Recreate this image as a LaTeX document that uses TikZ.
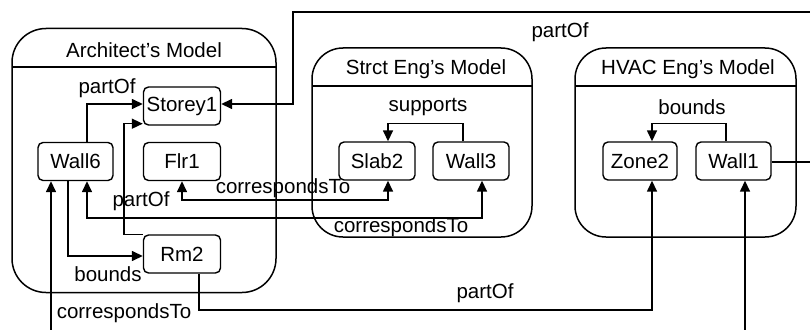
\documentclass[tikz,border=0pt]{standalone}
\usepackage{fontspec}
\setmainfont{Liberation Sans}
\usetikzlibrary{arrows.meta}
\begin{document}
\begin{tikzpicture}[x=1pt,y=-1pt,
  every node/.style={font=\fontsize{20.5}{24}\selectfont, inner sep=0pt},
  container/.style={draw, line width=1.5pt, rounded corners=34pt},
  elem/.style={draw, line width=1.4pt, rounded corners=5pt, minimum height=38pt},
  conn/.style={line width=1.5pt},
  arr/.style={conn, -{Triangle[length=11pt,width=10pt]}},
  darr/.style={conn, {Triangle[length=11pt,width=10pt]}-{Triangle[length=11pt,width=10pt]}},
  lbl/.style={}
]
\useasboundingbox (0,0) rectangle (810,329);

% containers
\node[container, minimum width=264pt, minimum height=264pt] (arch) at (144,160.5) {};
\node (archt) at (144,50) {Architect’s Model};
\draw[line width=1.4pt] (12,67) -- (276,67);

\node[container, rounded corners=31pt, minimum width=220pt, minimum height=189pt] (strct) at (422,142.5) {};
\node (strctt) at (426,69) {Strct Eng’s Model};
\draw[line width=1.4pt] (312,86) -- (532,86);

\node[container, rounded corners=31pt, minimum width=221pt, minimum height=189pt] (hvac) at (685.5,142.5) {};
\node (hvact) at (688,69) {HVAC Eng’s Model};
\draw[line width=1.4pt] (575,86) -- (796,86);

% elements
\node[elem, minimum width=77pt] (Storey1) at (182,106) {Storey1};
\node[elem, minimum width=75pt] (Wall6) at (75.5,161.5) {Wall6};
\node[elem, minimum width=77pt] (Flr1) at (182,161.5) {Flr1};
\node[elem, minimum width=77pt] (Rm2) at (182,254) {Rm2};
\node[elem, minimum width=76pt] (Slab2) at (377,161) {Slab2};
\node[elem, minimum width=76pt] (Wall3) at (471,161) {Wall3};
\node[elem, minimum width=74pt] (Zone2) at (640,161) {Zone2};
\node[elem, minimum width=75pt] (Wall1) at (733.5,161) {Wall1};

% connectors
\draw[arr] ([xshift=11.5pt]Wall6.north) |- ([yshift=2pt]Storey1.west);
\node (l1) at (107,88) {partOf};

\draw[arr] (Rm2.north west) -- ++(-19,0) |- ([yshift=2pt]Storey1.south west);
\node (l2) at (141,201) {partOf};

\draw[arr] ([xshift=-7.5pt]Wall6.south) |- ([yshift=-2pt]Rm2.west);
\node (l3) at (108,274) {bounds};

\draw[darr] ([xshift=11.5pt]Wall1.south) -- ++(0,153) -| ([xshift=-24.5pt]Wall6.south);
\node (l4) at (124,313) {correspondsTo};

\coordinate (b1) at (652,310);
\draw[arr] ([xshift=17pt]Rm2.south) |- (b1) -- ([xshift=12pt]Zone2.south);
\node (l5) at (485,293) {partOf};

\coordinate (c1) at (815,12);
\coordinate (c2) at (293,12);
\draw[arr] ([yshift=-1pt]Wall1.east) -| (c1) -- (c2) |- ([yshift=2pt]Storey1.east);
\node (l6) at (560,32) {partOf};

\draw[darr] (Flr1.south) -- ++(0,19) -| ([xshift=11pt]Slab2.south);
\node (l7) at (283,188) {correspondsTo};

\draw[darr] ([xshift=11.5pt]Wall6.south) -- ++(0,37) -| ([xshift=11pt]Wall3.south);
\node (l8) at (401,227) {correspondsTo};

\draw[arr] ([xshift=-8pt]Wall3.north) -- ++(0,-18) -| ([xshift=11pt]Slab2.north);
\node (l9) at (428,107) {supports};

\draw[arr] ([xshift=-7.5pt]Wall1.north) -- ++(0,-18) -| ([xshift=12pt]Zone2.north);
\node (l10) at (692,107) {bounds};
\end{tikzpicture}
\end{document}
